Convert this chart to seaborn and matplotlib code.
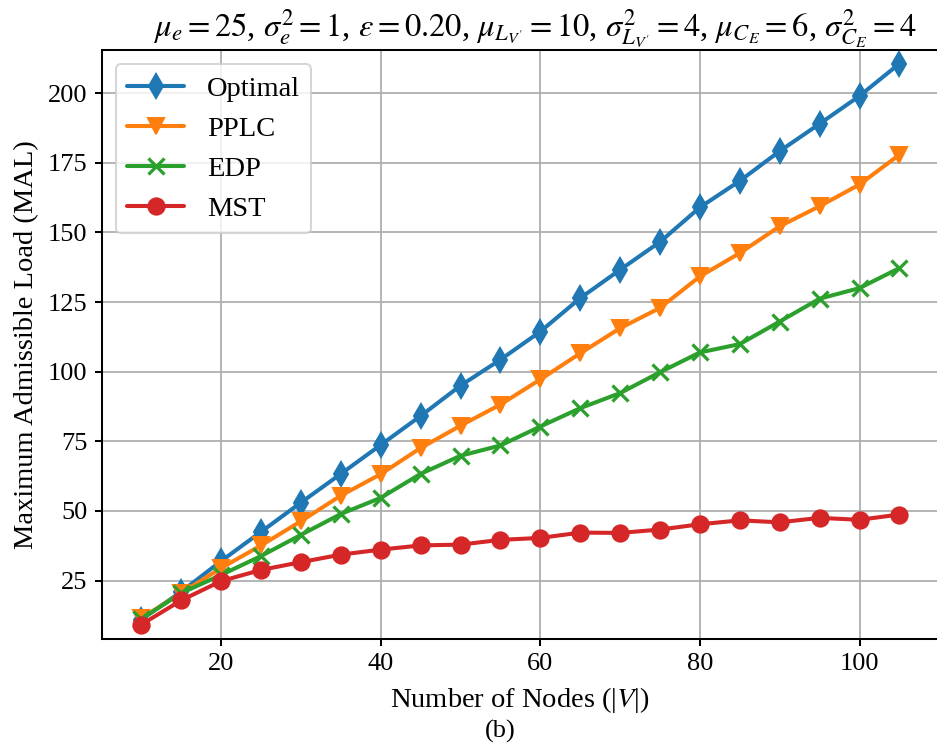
import matplotlib
matplotlib.use("Agg")
import matplotlib.pyplot as plt
import pandas as pd
import seaborn as sns

# Network size (number of nodes |V|)
nodes = [10, 15, 20, 25, 30, 35, 40, 45, 50, 55, 60, 65, 70, 75, 80, 85, 90, 95, 100, 105]

# Maximum admissible load per algorithm
optimal = [11.0, 21.0, 32.0, 42.5, 53.0, 63.3, 73.7, 84.1, 95.0, 104.3,
           114.4, 126.4, 136.6, 146.6, 159.0, 168.5, 179.2, 189.0, 199.0, 210.6]
pplc = [11.5, 20.5, 29.5, 37.6, 46.3, 55.5, 63.2, 72.6, 80.6, 88.2,
        97.2, 106.6, 115.6, 122.9, 134.2, 142.6, 152.2, 159.4, 167.2, 177.9]
edp = [11.2, 20.5, 27.0, 33.8, 41.4, 48.9, 54.7, 63.3, 69.8, 73.5,
       80.3, 86.9, 92.3, 99.8, 106.9, 109.9, 118.0, 126.2, 130.0, 137.2]
mst = [9.2, 17.9, 24.8, 28.8, 31.6, 34.3, 36.1, 37.6, 37.9, 39.6,
       40.3, 42.2, 42.1, 43.3, 45.2, 46.6, 45.9, 47.5, 46.8, 48.7]

algorithms = ["Optimal", "PPLC", "EDP", "MST"]
colors = ["#1f77b4", "#ff7f0e", "#2ca02c", "#d62728"]
markers = ["d", "v", "x", "o"]

y_ticks = [25, 50, 75, 100, 125, 150, 175, 200]
x_ticks = [20, 40, 60, 80, 100]

df = pd.DataFrame({
    "nodes": nodes * 4,
    "mal": optimal + pplc + edp + mst,
    "algorithm": [a for a in algorithms for _ in nodes],
})

sns.set_theme(style="ticks")
plt.rcParams["font.family"] = ["Liberation Serif", "DejaVu Serif"]
plt.rcParams["mathtext.fontset"] = "stix"
plt.rcParams["text.color"] = "black"
plt.rcParams["axes.labelcolor"] = "black"
plt.rcParams["axes.edgecolor"] = "black"
plt.rcParams["axes.linewidth"] = 1.0
plt.rcParams["xtick.color"] = "black"
plt.rcParams["ytick.color"] = "black"
plt.rcParams["xtick.major.size"] = 3.5
plt.rcParams["ytick.major.size"] = 3.5
plt.rcParams["xtick.major.width"] = 1.0
plt.rcParams["ytick.major.width"] = 1.0

dpi = 146.4
fig = plt.figure(figsize=(937 / dpi, 744 / dpi), dpi=dpi)
ax = fig.add_axes([101.5 / 937, 1 - 639 / 744, (938.5 - 101.5) / 937, (639 - 50) / 744])

for name, color, marker in zip(algorithms, colors, markers):
    sub = df[df["algorithm"] == name]
    sns.lineplot(
        data=sub, x="nodes", y="mal", ax=ax,
        color=color, marker=marker, markersize=8,
        markeredgecolor=color, markeredgewidth=1.6 if marker == "x" else 1.0,
        linewidth=2, label=name,
    )

ax.set_xlim(5.0, 109.9)
ax.set_ylim(4.0, 215.5)
ax.set_xticks(x_ticks)
ax.set_yticks(y_ticks)
ax.tick_params(labelsize=13)
ax.grid(True, color="#b0b0b0", linewidth=0.9)
ax.set_axisbelow(True)

ax.set_xlabel(r"Number of Nodes (|$V$|)", fontsize=14, labelpad=5)
ax.set_ylabel("Maximum Admissible Load (MAL)", fontsize=14)
ax.set_title(
    r"$\mu_e=25$, $\sigma_e^2=1$, $\varepsilon=0.20$, $\mu_{L_{V'}}=10$, "
    r"$\sigma^2_{L_{V'}}=4$, $\mu_{C_E}=6$, $\sigma^2_{C_E}=4$",
    fontsize=16, pad=6, x=0.518,
)

ax.legend(loc="upper left", fontsize=14, frameon=True)
fig.text(500 / 937, 1 - 731 / 744, "(b)", ha="center", va="center", fontsize=13)

fig.savefig("out.png", dpi=dpi)
